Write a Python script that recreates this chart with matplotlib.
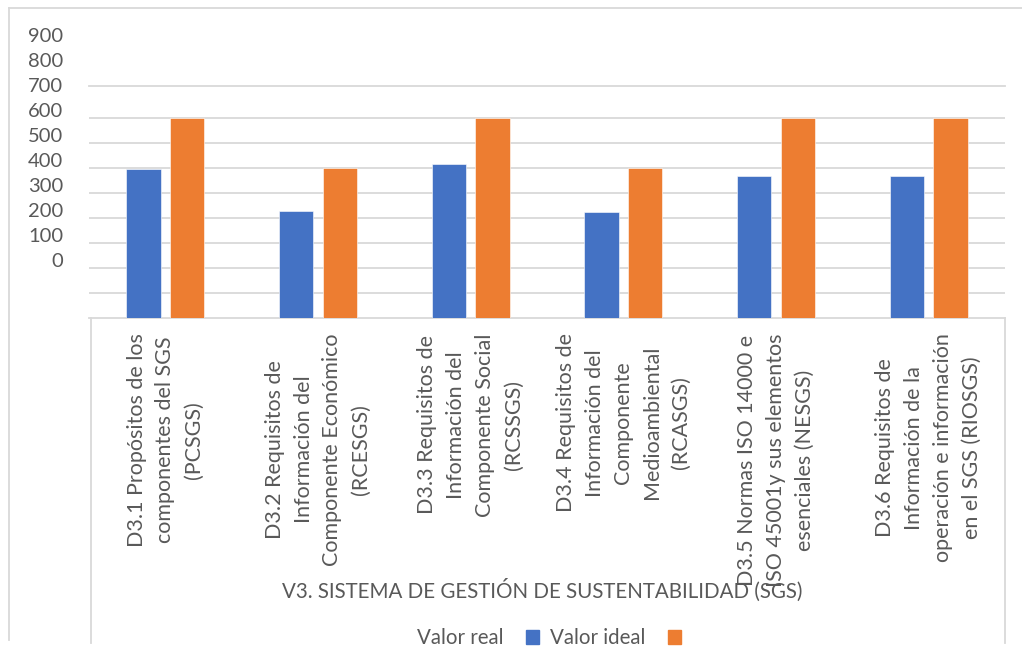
import matplotlib
matplotlib.use("Agg")
import matplotlib.pyplot as plt
from matplotlib.patches import Patch
from matplotlib.lines import Line2D
import numpy as np

# ----------------------------
# DATA
# ----------------------------
categories = [
    "D3.1 Propósitos de los\ncomponentes del SGS\n(PCSGS)",
    "D3.2 Requisitos de\nInformación del\nComponente Económico\n(RCESGS)",
    "D3.3 Requisitos de\nInformación del\nComponente Social\n(RCSSGS)",
    "D3.4 Requisitos de\nInformación del\nComponente\nMedioambiental\n(RCASGS)",
    "D3.5 Normas ISO 14000 e\nISO 45001y sus elementos\nesenciales (NESGS)",
    "D3.6 Requisitos de\nInformación de la\noperación e información\nen el SGS (RIOSGS)",
]
valor_real = [395, 230, 415, 225, 370, 370]
valor_ideal = [600, 400, 600, 400, 600, 600]
y_labels = [0, 100, 200, 300, 400, 500, 600, 700, 800, 900]
axis_title = "V3. SISTEMA DE GESTIÓN DE SUSTENTABILIDAD (SGS)"

BLUE = "#4472C4"
ORANGE = "#ED7D31"
GRID = "#D9D9D9"
TEXT = "#595959"

plt.rcParams["font.family"] = ["Lato", "DejaVu Sans"]

W, H = 1022, 654
fig = plt.figure(figsize=(W / 100, H / 100), dpi=100)
ax = fig.add_axes([89 / W, 1 - 318 / H, 916 / W, 232 / H])

# the value axis of the original starts at -200, bars grow from there
BASE = -200
x = np.arange(len(categories))
bw = 0.223
ax.bar(x - 0.143, np.array(valor_real) - BASE, bw, bottom=BASE,
       color=BLUE, edgecolor="white", linewidth=0.4, zorder=3)
ax.bar(x + 0.143, np.array(valor_ideal) - BASE, bw, bottom=BASE,
       color=ORANGE, edgecolor="white", linewidth=0.4, zorder=3)

ax.set_xlim(-0.5, len(categories) - 0.5)
ax.set_ylim(BASE, 728)
ax.set_yticks(range(-100, 700, 100))
ax.yaxis.grid(True, color=GRID, linewidth=1.3)
ax.set_axisbelow(True)
ax.tick_params(axis="y", length=0, labelleft=False)

for s in ["left", "right"]:
    ax.spines[s].set_visible(False)
for s in ["top", "bottom"]:
    ax.spines[s].set_color(GRID)
    ax.spines[s].set_linewidth(1.3)

# y labels (sit a bit above the gridlines, as in the original)
for v in y_labels:
    ax.text(-0.0284, v + 25, str(v), transform=ax.get_yaxis_transform(),
            ha="right", va="center", fontsize=14.5, color=TEXT, clip_on=False)

ax.set_xticks(x)
ax.set_xticklabels(categories, rotation=90, multialignment="center",
                   fontsize=15.5, color=TEXT, linespacing=1.55)
ax.tick_params(axis="x", length=0, pad=11)

# category box lines
for xa in [0.002, 1.0]:
    ax.add_line(Line2D([xa, xa], [0, -1.40], transform=ax.transAxes,
                       color=GRID, linewidth=1.3, clip_on=False))

fig.text(542 / W, 1 - 590 / H, axis_title, ha="center", va="center",
         fontsize=14.8, color=TEXT)

# outer chart border
fig.add_artist(Line2D([9 / W, 9 / W], [1 - 8 / H, 1 - 640 / H],
                      transform=fig.transFigure, color=GRID, linewidth=1.3))
fig.add_artist(Line2D([9 / W, 1.0], [1 - 8 / H, 1 - 8 / H],
                      transform=fig.transFigure, color=GRID, linewidth=1.3))

handles = [Patch(color=BLUE), Patch(color=ORANGE)]
leg = fig.legend(handles, ["Valor real", "Valor ideal"], loc="center",
                 bbox_to_anchor=(549 / W, 1 - 638 / H), ncol=2, frameon=False,
                 markerfirst=False, handlelength=0.65, handleheight=0.65,
                 handletextpad=1.1, columnspacing=0.5, fontsize=14.8)
for t in leg.get_texts():
    t.set_color(TEXT)

fig.savefig("out.png", dpi=100, facecolor="white")
